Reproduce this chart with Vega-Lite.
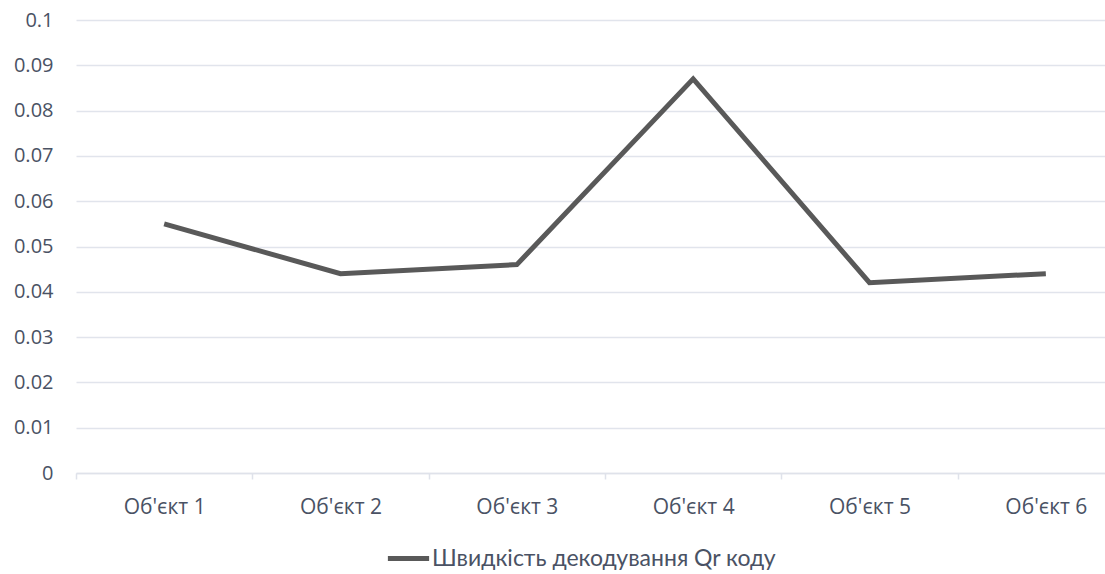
{
  "$schema": "https://vega.github.io/schema/vega-lite/v6.json",
  "autosize": {"type": "none"},
  "width": 1029,
  "height": 453,
  "padding": {"left": 76, "top": 20, "right": 0, "bottom": 101},
  "background": "#ffffff",
  "config": {
    "view": {"stroke": null},
    "font": "Open Sans"
  },
  "data": {
    "values": [
      {"object": "Об'єкт 1", "speed": 0.055, "series": "Швидкість декодування Qr коду"},
      {"object": "Об'єкт 2", "speed": 0.044, "series": "Швидкість декодування Qr коду"},
      {"object": "Об'єкт 3", "speed": 0.046, "series": "Швидкість декодування Qr коду"},
      {"object": "Об'єкт 4", "speed": 0.087, "series": "Швидкість декодування Qr коду"},
      {"object": "Об'єкт 5", "speed": 0.042, "series": "Швидкість декодування Qr коду"},
      {"object": "Об'єкт 6", "speed": 0.044, "series": "Швидкість декодування Qr коду"}
    ]
  },
  "mark": {"type": "line", "strokeWidth": 5, "strokeJoin": "miter", "strokeCap": "butt"},
  "encoding": {
    "x": {
      "field": "object",
      "type": "nominal",
      "bandPosition": 0.5,
      "sort": null,
      "scale": {"type": "band", "paddingInner": 0, "paddingOuter": 0, "range": [0, 1058]},
      "axis": {
        "title": null,
        "labelAngle": 0,
        "labelFontSize": 21,
        "labelColor": "#4a5264",
        "labelPadding": 17,
        "domainColor": "#dfe2ea",
        "domainWidth": 1.5,
        "tickColor": "#dfe2ea",
        "tickWidth": 1.5,
        "tickSize": 6,
        "tickBand": "extent",
        "grid": false
      }
    },
    "y": {
      "field": "speed",
      "type": "quantitative",
      "scale": {"domain": [0, 0.1], "nice": false},
      "axis": {
        "title": null,
        "values": [0, 0.01, 0.02, 0.03, 0.04, 0.05, 0.06, 0.07, 0.08, 0.09, 0.1],
        "format": "~g",
        "labelFontSize": 20,
        "labelColor": "#4a5264",
        "labelPadding": 23,
        "domain": false,
        "ticks": false,
        "grid": true,
        "gridColor": "#e1e4ec",
        "gridWidth": 1.5
      }
    },
    "color": {
      "field": "series",
      "type": "nominal",
      "scale": {"range": ["#595959"]},
      "legend": {
        "title": null,
        "orient": "none",
        "legendX": 309,
        "legendY": 515,
        "symbolType": "stroke",
        "symbolSize": 1700,
        "symbolStrokeWidth": 5,
        "labelFontSize": 23,
        "labelFont": "Lato",
        "labelLimit": 600,
        "labelColor": "#4a5264",
        "labelOffset": 0
      }
    }
  }
}
